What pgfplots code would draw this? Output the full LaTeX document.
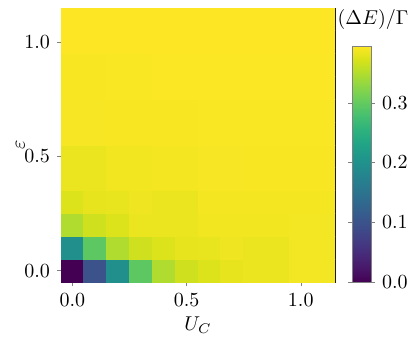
\documentclass[border=0pt]{standalone}
\usepackage{pgfplots}
\pgfplotsset{compat=1.18}

% cell values, x = U_C varies first, then eps
\pgfplotstableread{
x y c
0.0 0.0 0.000
0.1 0.0 0.099
0.2 0.0 0.197
0.3 0.0 0.296
0.4 0.0 0.348
0.5 0.0 0.367
0.6 0.0 0.375
0.7 0.0 0.381
0.8 0.0 0.383
0.9 0.0 0.383
1.0 0.0 0.389
1.1 0.0 0.389
0.0 0.1 0.197
0.1 0.1 0.296
0.2 0.1 0.348
0.3 0.1 0.367
0.4 0.1 0.375
0.5 0.1 0.381
0.6 0.1 0.382
0.7 0.1 0.387
0.8 0.1 0.383
0.9 0.1 0.383
1.0 0.1 0.389
1.1 0.1 0.389
0.0 0.2 0.348
0.1 0.2 0.367
0.2 0.2 0.375
0.3 0.2 0.384
0.4 0.2 0.383
0.5 0.2 0.383
0.6 0.2 0.388
0.7 0.2 0.388
0.8 0.2 0.388
0.9 0.2 0.388
1.0 0.2 0.389
1.1 0.2 0.389
0.0 0.3 0.375
0.1 0.3 0.381
0.2 0.3 0.382
0.3 0.3 0.387
0.4 0.3 0.383
0.5 0.3 0.383
0.6 0.3 0.390
0.7 0.3 0.390
0.8 0.3 0.390
0.9 0.3 0.390
1.0 0.3 0.390
1.1 0.3 0.390
0.0 0.4 0.383
0.1 0.4 0.383
0.2 0.4 0.388
0.3 0.4 0.388
0.4 0.4 0.390
0.5 0.4 0.390
0.6 0.4 0.391
0.7 0.4 0.391
0.8 0.4 0.392
0.9 0.4 0.392
1.0 0.4 0.392
1.1 0.4 0.392
0.0 0.5 0.383
0.1 0.5 0.383
0.2 0.5 0.388
0.3 0.5 0.388
0.4 0.5 0.390
0.5 0.5 0.390
0.6 0.5 0.391
0.7 0.5 0.391
0.8 0.5 0.392
0.9 0.5 0.392
1.0 0.5 0.392
1.1 0.5 0.392
0.0 0.6 0.391
0.1 0.6 0.391
0.2 0.6 0.392
0.3 0.6 0.392
0.4 0.6 0.392
0.5 0.6 0.392
0.6 0.6 0.393
0.7 0.6 0.393
0.8 0.6 0.393
0.9 0.6 0.393
1.0 0.6 0.393
1.1 0.6 0.393
0.0 0.7 0.391
0.1 0.7 0.391
0.2 0.7 0.392
0.3 0.7 0.392
0.4 0.7 0.392
0.5 0.7 0.392
0.6 0.7 0.393
0.7 0.7 0.393
0.8 0.7 0.393
0.9 0.7 0.393
1.0 0.7 0.393
1.1 0.7 0.393
0.0 0.8 0.392
0.1 0.8 0.392
0.2 0.8 0.393
0.3 0.8 0.393
0.4 0.8 0.394
0.5 0.8 0.394
0.6 0.8 0.394
0.7 0.8 0.394
0.8 0.8 0.394
0.9 0.8 0.394
1.0 0.8 0.394
1.1 0.8 0.394
0.0 0.9 0.392
0.1 0.9 0.392
0.2 0.9 0.393
0.3 0.9 0.393
0.4 0.9 0.394
0.5 0.9 0.394
0.6 0.9 0.394
0.7 0.9 0.394
0.8 0.9 0.394
0.9 0.9 0.394
1.0 0.9 0.394
1.1 0.9 0.394
0.0 1.0 0.395
0.1 1.0 0.395
0.2 1.0 0.395
0.3 1.0 0.395
0.4 1.0 0.395
0.5 1.0 0.395
0.6 1.0 0.395
0.7 1.0 0.395
0.8 1.0 0.395
0.9 1.0 0.395
1.0 1.0 0.395
1.1 1.0 0.395
0.0 1.1 0.395
0.1 1.1 0.395
0.2 1.1 0.395
0.3 1.1 0.395
0.4 1.1 0.395
0.5 1.1 0.395
0.6 1.1 0.395
0.7 1.1 0.395
0.8 1.1 0.395
0.9 1.1 0.395
1.0 1.1 0.395
1.1 1.1 0.395
}\gapdata

\begin{document}
\begin{tikzpicture}
\begin{axis}[
    name=main,
    scale only axis,
    width=137pt, height=137pt,
    xmin=-0.05, xmax=1.15,
    ymin=-0.05, ymax=1.15,
    xtick={0,0.5,1}, ytick={0,0.5,1},
    xticklabels={0.0,0.5,1.0},
    yticklabels={0.0,0.5,1.0},
    tick align=outside,
    major tick length=2pt,
    xtick pos=bottom, ytick pos=left,
    xlabel={$U_C$}, ylabel={$\varepsilon$},
    ylabel shift=-7pt,
    xlabel shift=-2pt,
    colormap/viridis,
    point meta min=0, point meta max=0.395,
    colorbar,
    colorbar style={
        scale only axis,
        at={([xshift=10pt,yshift=-0.5pt]parent axis.south east)},
        anchor=south west,
        width=9.5pt, height=118pt,
        ytick={0,0.1,0.2,0.3},
        yticklabels={0.0,0.1,0.2,0.3},
        tick align=outside,
        major tick length=2pt,
        axis line style={gray},
    },
]
\addplot[matrix plot*, mesh/cols=12, point meta=explicit] table[x=x, y=y, meta=c] {\gapdata};
\end{axis}
\node at (156pt,131pt) {$(\Delta E)/\Gamma$};
\pgfresetboundingbox
\path (-30.5pt,-27.5pt) rectangle (177pt,141pt);
\end{tikzpicture}
\end{document}
